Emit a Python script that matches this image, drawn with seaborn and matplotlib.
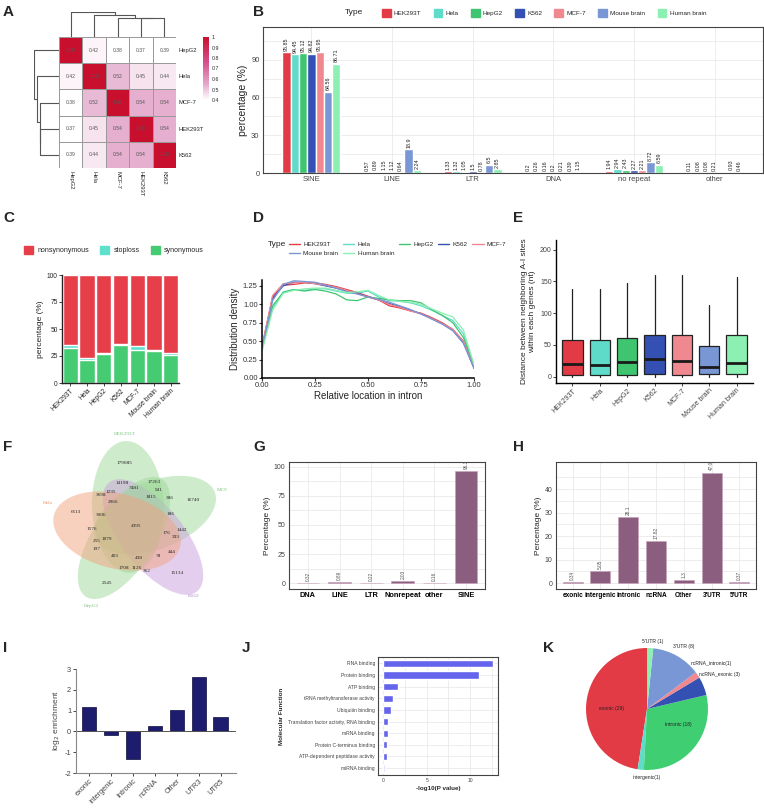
import numpy as np
import pandas as pd
import matplotlib
matplotlib.use("Agg")
import matplotlib.pyplot as plt
import seaborn as sns
from matplotlib.patches import Ellipse, Patch
from matplotlib.lines import Line2D
from matplotlib.colors import LinearSegmentedColormap

sns.set_style("white")
plt.rcParams["font.family"] = ["Liberation Sans", "DejaVu Sans"]
plt.rcParams["axes.unicode_minus"] = False

# ---------------- data ----------------
types = ["HEK293T", "Hela", "HepG2", "K562", "MCF-7", "Mouse brain", "Human brain"]
type_colors = ["#e23b46", "#5edcc9", "#3fc570", "#3450b2", "#f08890", "#7a97d5", "#8bf0b1"]

# A: correlation between cell lines
corr_names = ["HepG2", "Hela", "MCF-7", "HEK293T", "K562"]
corr_hepg2 = [1.00, 0.42, 0.38, 0.37, 0.39]
corr_hela = [0.42, 1.00, 0.52, 0.45, 0.44]
corr_mcf7 = [0.38, 0.52, 1.00, 0.54, 0.54]
corr_hek = [0.37, 0.45, 0.54, 1.00, 0.54]
corr_k562 = [0.39, 0.44, 0.54, 0.54, 1.00]
link_leaf = ["HEK293T", "MCF-7", "Hela", "HepG2"]   # joined in this order onto K562
link_height = [0.46, 0.465, 0.53, 0.61]

# B: repeat classes (%)
repeat_classes = ["SINE", "LINE", "LTR", "DNA", "no repeat", "other"]
rep_hek = [95.85, 0.57, 1.33, 0.2, 1.94, 0.11]
rep_hela = [94.45, 0.89, 1.32, 0.26, 2.94, 0.08]
rep_hepg2 = [95.12, 1.15, 1.05, 0.16, 2.43, 0.08]
rep_k562 = [94.82, 1.12, 1.5, 0.2, 2.27, 0.21]
rep_mcf7 = [95.95, 0.64, 0.78, 0.21, 2.21, np.nan]
rep_mouse = [64.56, 18.9, 6.5, 0.39, 8.72, 0.93]
rep_human = [86.71, 2.24, 2.85, 1.15, 6.59, 0.46]

# C: mutation types (%)
mut_syn = [32, 21.5, 26.5, 35, 31, 30, 25.5]
mut_stop = [3, 1.5, 1, 1, 3, 0.5, 2.5]
mut_nonsyn = [65, 77, 72.5, 64, 66, 69.5, 72]

# D: density along intron
rel_loc = [0, .05, .1, .15, .2, .25, .3, .35, .4, .45, .5, .55, .6, .65, .7, .75, .8, .85, .9, .95, 1]
dens_hek = [0.42, 1.10, 1.26, 1.27, 1.29, 1.29, 1.27, 1.24, 1.20, 1.16, 1.11, 1.06, 0.98, 0.95, 0.91, 0.88, 0.82, 0.75, 0.66, 0.50, 0.16]
dens_hela = [0.38, 0.95, 1.17, 1.20, 1.19, 1.21, 1.21, 1.18, 1.15, 1.15, 1.18, 1.10, 1.05, 1.04, 1.02, 0.98, 0.92, 0.85, 0.78, 0.60, 0.15]
dens_hepg2 = [0.40, 0.98, 1.16, 1.20, 1.18, 1.20, 1.18, 1.14, 1.06, 1.05, 1.10, 1.08, 1.06, 1.05, 1.05, 1.02, 0.93, 0.85, 0.75, 0.55, 0.18]
dens_k562 = [0.42, 1.08, 1.25, 1.30, 1.30, 1.28, 1.25, 1.22, 1.18, 1.15, 1.10, 1.06, 1.01, 0.97, 0.92, 0.87, 0.81, 0.74, 0.65, 0.48, 0.13]
dens_mcf7 = [0.43, 1.12, 1.28, 1.29, 1.30, 1.28, 1.26, 1.23, 1.19, 1.14, 1.10, 1.06, 1.00, 0.96, 0.91, 0.87, 0.81, 0.74, 0.66, 0.50, 0.14]
dens_mouse = [0.40, 1.05, 1.27, 1.32, 1.31, 1.30, 1.26, 1.22, 1.17, 1.14, 1.10, 1.07, 1.03, 0.98, 0.93, 0.87, 0.80, 0.73, 0.64, 0.47, 0.14]
dens_human = [0.36, 0.92, 1.15, 1.19, 1.21, 1.22, 1.22, 1.19, 1.16, 1.17, 1.19, 1.12, 1.06, 1.04, 1.03, 1.00, 0.94, 0.88, 0.83, 0.65, 0.18]

# E: distance between neighbouring sites (box stats)
dist_lo = [0, 0, 0, 0, 0, 0, 0]
dist_q1 = [3, 3, 3, 4, 3, 4, 4]
dist_med = [20, 18, 23, 27, 24, 15, 21]
dist_q3 = [57, 57, 61, 66, 66, 48, 65]
dist_hi = [138, 138, 148, 160, 160, 113, 157]

# F: venn
venn_sets = ["HEK293T", "MCF", "K562", "HepG2", "Hela"]
venn_counts = [179085, 14198, 17263, 7481, 941, 3698, 1235, 2966, 1815, 386, 16740,
               6113, 3006, 186, 4395, 1576, 1442, 176, 333, 255, 1079, 197, 403,
               438, 78, 444, 1708, 1126, 362, 15134, 2545]

# G: repeat annotation (%)
g_cls = ["DNA", "LINE", "LTR", "Nonrepeat", "other", "SINE"]
g_pct = [0.32, 0.89, 0.22, 2.03, 0.16, 96.38]

# H: genomic region (%)
h_cls = ["exonic", "intergenic", "intronic", "ncRNA", "Other", "3'UTR", "5'UTR"]
h_pct = [0.34, 5.05, 28.1, 17.82, 1.3, 47.02, 0.37]

# I: enrichment
i_cls = ["exonic", "intergenic", "Intronic", "ncRNA", "Other", "UTR3", "UTR5"]
i_log2 = [1.15, -0.15, -1.35, 0.27, 1.05, 2.6, 0.7]

# J: GO molecular function
j_terms = ["RNA binding", "Protein binding", "ATP binding", "tRNA methyltransferase activity",
           "Ubiquitin binding", "Translation factor activity, RNA binding", "mRNA binding",
           "Protein C-terminus binding", "ATP-dependent peptidase activity", "miRNA binding"]
j_logp = [12.6, 11.0, 1.7, 1.15, 0.9, 0.5, 0.5, 0.45, 0.4, 0.15]

# K: pie
k_names = ["exonic (29)", "intergenic(1)", "intronic (18)", "ncRNA_exonic (3)",
           "ncRNA_intronic(1)", "3'UTR (8)", "5'UTR (1)"]
k_counts = [29, 1, 18, 3, 1, 8, 1]

# ---------------- layout helpers ----------------
W, H = 764, 809
fig = plt.figure(figsize=(W / 100, H / 100), dpi=100)


def box(x0, y0, x1, y1):
    return fig.add_axes([x0 / W, 1 - y1 / H, (x1 - x0) / W, (y1 - y0) / H])


def letter(x, y, s):
    fig.text(x / W, 1 - y / H, s, fontsize=11, fontweight="bold", va="center", ha="left")


def bw_style(ax):
    ax.grid(True, which="both", color="#e6e6e6", lw=0.5)
    ax.set_axisbelow(True)
    for s in ax.spines.values():
        s.set_color("#444444")
        s.set_linewidth(0.8)
    ax.tick_params(length=1.5, width=0.5, colors="#444444", labelsize=5, pad=1)


for x, y, s in [(3, 12, "A"), (253, 12, "B"), (3, 218, "C"), (253, 218, "D"), (513, 218, "E"),
                (3, 447, "F"), (253, 447, "G"), (513, 447, "H"), (3, 648, "I"), (242, 648, "J"),
                (543, 648, "K")]:
    letter(x, y, s)

# ---------------- A ----------------
corr_df = pd.DataFrame([corr_hepg2, corr_hela, corr_mcf7, corr_hek, corr_k562],
                       index=corr_names, columns=corr_names)
cmap_a = LinearSegmentedColormap.from_list("a", [(0, "white"), (0.25, "#e4a9cc"),
                                                 (0.6, "#d4508a"), (1, "#c8102e")])
ax_a = box(59, 37, 176, 168)
cax_a = box(203, 37, 209, 100)
sns.heatmap(corr_df, ax=ax_a, cbar_ax=cax_a, cmap=cmap_a, vmin=0.4, vmax=1, annot=True, fmt=".2f",
            annot_kws={"fontsize": 3.6, "color": "#555555"}, linewidths=0.6, linecolor="#9a9a9a")
ax_a.tick_params(length=0, labelsize=4.2, pad=2)
ax_a.yaxis.tick_right()
ax_a.set_yticklabels(corr_names, rotation=0)
ax_a.set_xticklabels(corr_names, rotation=-90)
ax_a.set_xlabel("")
ax_a.set_ylabel("")
cax_a.set_yticks([0.4, 0.5, 0.6, 0.7, 0.8, 0.9, 1.0])
cax_a.set_yticklabels(["0.4", "0.5", "0.6", "0.7", "0.8", "0.9", "1"])
cax_a.tick_params(length=0, labelsize=3.8, pad=2)
for s in cax_a.spines.values():
    s.set_visible(False)


def dendro_segments():
    pos = {n: i + 0.5 for i, n in enumerate(corr_names)}
    cur_x, cur_h = pos["K562"], 0.0
    segs = []
    for name, h in zip(link_leaf, link_height):
        x1 = pos[name]
        segs.append(([x1, x1, cur_x, cur_x], [0, h, h, cur_h]))
        cur_x, cur_h = (x1 + cur_x) / 2, h
    return segs


ax_top = box(59, 12, 176, 37)
ax_left = box(34, 37, 59, 168)
for xs, hs in dendro_segments():
    ax_top.plot(xs, hs, color="#555555", lw=0.8)
    ax_left.plot(hs, xs, color="#555555", lw=0.8)
ax_top.set_xlim(0, 5)
ax_top.set_ylim(0, 0.615)
ax_left.set_ylim(5, 0)
ax_left.set_xlim(0.615, 0)
for a in (ax_top, ax_left):
    a.axis("off")

# ---------------- B ----------------
df_b = pd.DataFrame({"cls": repeat_classes * 7,
                     "type": np.repeat(types, len(repeat_classes)),
                     "pct": rep_hek + rep_hela + rep_hepg2 + rep_k562 + rep_mcf7 + rep_mouse + rep_human})
ax_b = box(263, 27, 763, 173)
sns.barplot(data=df_b, x="cls", y="pct", hue="type", palette=type_colors, width=0.72,
            saturation=1, ax=ax_b, legend=False, errorbar=None)
for cont in ax_b.containers:
    for bar in cont:
        h = bar.get_height()
        if np.isnan(h) or h <= 0:
            continue
        ax_b.text(bar.get_x() + bar.get_width() / 2, h + 1.2, f"{h:g}", rotation=90,
                  ha="center", va="bottom", fontsize=3.9, color="#222222")
ax_b.set_ylim(0, 116)
ax_b.set_xlim(-0.6, 5.6)
ax_b.set_yticks([0, 30, 60, 90])
ax_b.set_yticks([15, 45, 75, 105], minor=True)
bw_style(ax_b)
ax_b.tick_params(labelsize=5.5)
ax_b.set_xlabel("")
ax_b.set_ylabel("percentage (%)", fontsize=7.5, labelpad=2)
fig.text(345 / W, 1 - 13 / H, "Type", fontsize=6, va="center")
fig.legend([Patch(color=c) for c in type_colors], types, loc="center left",
           bbox_to_anchor=(376 / W, 1 - 13 / H), ncol=7, frameon=False, fontsize=4.6,
           handlelength=1.4, handleheight=1.4, handletextpad=0.5, columnspacing=1.9)

# ---------------- C ----------------
ax_c = box(62, 275, 179, 383)
total_c = [a + b + c for a, b, c in zip(mut_syn, mut_stop, mut_nonsyn)]
syn_stop = [a + b for a, b in zip(mut_syn, mut_stop)]
sns.barplot(x=types, y=total_c, color="#e63f4a", saturation=1, width=0.92, ax=ax_c)
sns.barplot(x=types, y=syn_stop, color="#5ee0cc", saturation=1, width=0.92, ax=ax_c)
sns.barplot(x=types, y=mut_syn, color="#45cc73", saturation=1, width=0.92, ax=ax_c)
ax_c.set_ylim(0, 100)
ax_c.set_xlim(-0.5, 6.5)
ax_c.set_yticks([0, 25, 50, 75, 100])
sns.despine(ax=ax_c)
for s in ("left", "bottom"):
    ax_c.spines[s].set_linewidth(1.0)
    ax_c.spines[s].set_color("#222222")
ax_c.tick_params(axis="both", length=2, width=0.6, labelsize=4.8, pad=1, bottom=True, left=True)
plt.setp(ax_c.get_xticklabels(), rotation=45, ha="right", rotation_mode="anchor")
ax_c.set_ylabel("percentage (%)", fontsize=6, labelpad=2)
fig.legend([Patch(color=c) for c in ["#e63f4a", "#5ee0cc", "#45cc73"]],
           ["nonsynonymous", "stoploss", "synonymous"], loc="center left",
           bbox_to_anchor=(18 / W, 1 - 250 / H), ncol=3, frameon=False, fontsize=5,
           handlelength=1.3, handleheight=1.3, handletextpad=0.6, columnspacing=1.6)

# ---------------- D ----------------
dens_all = [dens_hek, dens_hela, dens_hepg2, dens_k562, dens_mcf7, dens_mouse, dens_human]
df_d = pd.DataFrame({"x": rel_loc * 7, "type": np.repeat(types, len(rel_loc)),
                     "y": sum(dens_all, [])})
ax_d = box(262, 280, 474, 378)
sns.lineplot(data=df_d, x="x", y="y", hue="type", palette=type_colors, lw=0.9, ax=ax_d, legend=False)
ax_d.set_xlim(0, 1)
ax_d.set_ylim(0, 1.33)
ax_d.set_xticks([0, 0.25, 0.5, 0.75, 1])
ax_d.set_yticks([0, 0.25, 0.5, 0.75, 1, 1.25])
ax_d.xaxis.set_major_formatter(matplotlib.ticker.FormatStrFormatter("%.2f"))
ax_d.yaxis.set_major_formatter(matplotlib.ticker.FormatStrFormatter("%.2f"))
sns.despine(ax=ax_d)
for s in ("left", "bottom"):
    ax_d.spines[s].set_linewidth(1.1)
    ax_d.spines[s].set_color("black")
ax_d.tick_params(length=2, width=0.8, labelsize=5.5, pad=1, bottom=True, left=True, colors="#333333")
ax_d.set_xlabel("Relative location in intron", fontsize=7, labelpad=1)
ax_d.set_ylabel("Distribution density", fontsize=7, labelpad=2)
fig.text(268 / W, 1 - 245 / H, "Type", fontsize=6, va="center")
order = [0, 5, 1, 6, 2, 3, 4]
fig.legend([Line2D([0], [0], color=type_colors[i], lw=1) for i in order], [types[i] for i in order],
           loc="center left", bbox_to_anchor=(283 / W, 1 - 249 / H), ncol=5, frameon=False,
           fontsize=4.6, handlelength=1.8, handletextpad=0.5, columnspacing=0.7, labelspacing=0.6)

# ---------------- E ----------------
ax_e = box(556, 240, 753, 383)
stats = [dict(med=m, q1=a, q3=b, whislo=lo, whishi=hi, fliers=[])
         for m, a, b, lo, hi in zip(dist_med, dist_q1, dist_q3, dist_lo, dist_hi)]
bp = ax_e.bxp(stats, positions=range(7), widths=0.75, patch_artist=True, showcaps=False,
              boxprops=dict(edgecolor="#222222", lw=0.9),
              medianprops=dict(color="#1a1a1a", lw=2.0),
              whiskerprops=dict(color="#222222", lw=0.9))
for patch, c in zip(bp["boxes"], type_colors):
    patch.set_facecolor(c)
ax_e.set_xlim(-0.6, 6.6)
ax_e.set_ylim(-10, 215)
ax_e.set_yticks([0, 50, 100, 150, 200])
ax_e.set_xticks(range(7))
ax_e.set_xticklabels(types, rotation=45, ha="right", rotation_mode="anchor")
sns.despine(ax=ax_e)
for s in ("left", "bottom"):
    ax_e.spines[s].set_linewidth(1.0)
    ax_e.spines[s].set_color("black")
ax_e.tick_params(length=2, width=0.7, labelsize=5, pad=1, bottom=True, left=True, colors="#444444")
ax_e.set_ylabel("Distance between neighboring A-I sites\nwithin each genes (nt)", fontsize=6,
                labelpad=3, linespacing=1.1)

# ---------------- F ----------------
ax_f = box(0, 425, 250, 620)
ax_f.set_xlim(0, 250)
ax_f.set_ylim(620, 425)
ax_f.axis("off")
venn_geom = [((128, 507), 132, 72, 92), ((155, 515), 128, 68, 21), ((153, 537), 140, 62, -51),
             ((124, 538), 140, 62, 57), ((117, 531), 130, 75, -14)]
venn_fill = ["#9fd99a", "#9fd99a", "#c9a0dc", "#9fd99a", "#f2a27e"]
venn_lab_col = ["#7cc47a", "#7cc47a", "#b58bc8", "#7cc47a", "#e8906a"]
venn_lab_xy = [(125, 434), (222, 490), (194, 596), (91, 606), (48, 503)]
for (cxy, w, h, a), c in zip(venn_geom, venn_fill):
    ax_f.add_patch(Ellipse(cxy, w, h, angle=-a, facecolor=c, edgecolor="none", alpha=0.5))
for name, (x, y), c in zip(venn_sets, venn_lab_xy, venn_lab_col):
    ax_f.text(x, y, name, fontsize=3.8, color=c, ha="center", va="center", family="Liberation Serif")
venn_xy = [(125, 463), (122, 483), (154, 482), (134, 488), (159, 490), (101, 495), (111, 492),
           (113, 502), (151, 497), (170, 498), (193, 500), (76, 512), (101, 515), (171, 514),
           (136, 526), (92, 529), (182, 530), (167, 533), (176, 537), (97, 541), (107, 539),
           (97, 549), (115, 556), (139, 558), (158, 556), (172, 552), (124, 568), (137, 568),
           (147, 571), (177, 573), (107, 583)]
for n, (x, y) in zip(venn_counts, venn_xy):
    ax_f.text(x, y, str(n), fontsize=3.8, ha="center", va="center", family="Liberation Serif")

# ---------------- G ----------------
ax_g = box(289, 462, 485, 589)
sns.barplot(x=g_cls, y=g_pct, color="#8b5e7f", saturation=1, width=0.72, ax=ax_g,
            edgecolor="#c9a0b8", linewidth=0.4)
for bar in ax_g.patches:
    h = bar.get_height()
    ax_g.text(bar.get_x() + bar.get_width() / 2, h + 1.5, f"{h:g}", rotation=90, ha="center",
              va="bottom", fontsize=3.4, color="#555555", clip_on=True)
ax_g.set_ylim(-5, 104)
ax_g.set_xlim(-0.6, 5.6)
ax_g.set_yticks([0, 25, 50, 75, 100])
ax_g.set_yticks([12.5, 37.5, 62.5, 87.5], minor=True)
bw_style(ax_g)
ax_g.tick_params(axis="x", labelsize=5.3, colors="black")
for t in ax_g.get_xticklabels():
    t.set_fontweight("bold")
ax_g.set_ylabel("Percentage (%)", fontsize=6, labelpad=2)

# ---------------- H ----------------
ax_h = box(556, 462, 756, 589)
sns.barplot(x=h_cls, y=h_pct, color="#8b5e7f", saturation=1, width=0.72, ax=ax_h,
            edgecolor="#c9a0b8", linewidth=0.4)
for bar in ax_h.patches:
    h = bar.get_height()
    ax_h.text(bar.get_x() + bar.get_width() / 2, h + 1.0, f"{h:g}", rotation=90, ha="center",
              va="bottom", fontsize=3.4, color="#555555", clip_on=True)
ax_h.set_ylim(-2.5, 51.5)
ax_h.set_xlim(-0.6, 6.6)
ax_h.set_yticks([0, 10, 20, 30, 40])
ax_h.set_yticks([5, 15, 25, 35, 45], minor=True)
bw_style(ax_h)
ax_h.tick_params(axis="x", labelsize=4.7, colors="black")
for t in ax_h.get_xticklabels():
    t.set_fontweight("bold")
ax_h.set_ylabel("Percentage (%)", fontsize=6, labelpad=2)

# ---------------- I ----------------
ax_i = box(76, 669, 236, 773)
sns.barplot(x=i_cls, y=i_log2, color="#1d1c6e", saturation=1, width=0.66, ax=ax_i,
            edgecolor="#0d0d3d", linewidth=0.5)
ax_i.set_ylim(-2, 3)
ax_i.set_xlim(-0.6, 6.7)
ax_i.axhline(0, color="#555555", lw=0.7)
sns.despine(ax=ax_i)
for s in ("left", "bottom"):
    ax_i.spines[s].set_color("#888888")
    ax_i.spines[s].set_linewidth(0.8)
ax_i.tick_params(length=2.5, width=0.7, colors="#444444", labelsize=5.3, pad=1, bottom=True, left=True)
plt.setp(ax_i.get_xticklabels(), rotation=45, ha="right", rotation_mode="anchor")
ax_i.set_ylabel("log$_2$ enrichment", fontsize=6, color="#444444", labelpad=2)

# ---------------- J ----------------
ax_j = box(378, 657, 498, 775)
j_colors = ["#6464ec"] * 9 + ["#d2d2f6"]
sns.barplot(x=j_logp, y=j_terms, hue=j_terms, palette=j_colors, saturation=1, width=0.62,
            ax=ax_j, legend=False, orient="h")
ax_j.set_xlim(-0.6, 13.2)
ax_j.set_ylim(9.6, -0.55)
ax_j.set_xticks([0, 5, 10])
ax_j.set_xticks([2.5, 7.5, 12.5], minor=True)
bw_style(ax_j)
ax_j.tick_params(labelsize=3.6, length=1.2)
ax_j.set_xlabel("-log10(P value)", fontsize=4.5, fontweight="bold", labelpad=2)
ax_j.set_ylabel("Molecular Function", fontsize=4.5, fontweight="bold", labelpad=3)

# ---------------- K ----------------
ax_k = box(546, 630, 748, 790)
k_colors = ["#e23b46", "#5edcc9", "#3fcf72", "#3450b2", "#f08890", "#7a97d5", "#8bf0b1"]
wedges, _ = ax_k.pie(k_counts, colors=k_colors, startangle=90, counterclock=True,
                     wedgeprops=dict(linewidth=0))
ax_k.set_xlim(-1.656, 1.656)
ax_k.set_ylim(-1.328, 1.295)
ax_k.set_aspect("auto")
# label anchors (in pie radius units) and alignment
k_label_xy = [(-0.59, 0.0), (0.0, -1.13), (0.52, -0.25), (0.85, 0.57), (0.72, 0.75),
              (0.43, 1.02), (-0.08, 1.11)]
k_label_ha = ["center", "center", "center", "left", "left", "left", "left"]
for name, (x, y), ha in zip(k_names, k_label_xy, k_label_ha):
    ax_k.text(x, y, name, fontsize=3.6, ha=ha, va="center", color="#222222")

fig.savefig("out.png", dpi=100)
